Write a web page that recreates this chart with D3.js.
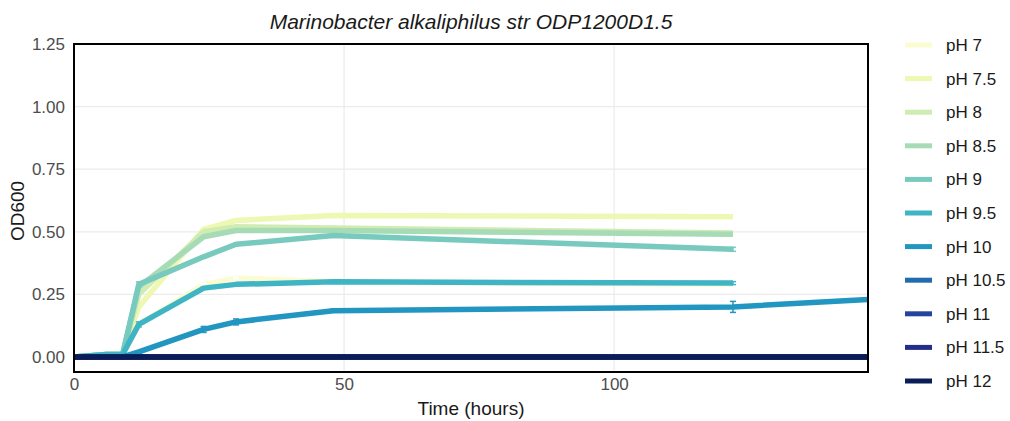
<!DOCTYPE html>
<html><head><meta charset="utf-8">
<script src="https://cdn.jsdelivr.net/npm/d3@7"></script>
<style>body{margin:0;background:#fff;} svg{display:block;font-family:"Liberation Sans",Arial,sans-serif;}</style>
</head><body><svg id="c" width="1010" height="421"></svg>
<script>
const seriesNames = ["pH 7","pH 7.5","pH 8","pH 8.5","pH 9","pH 9.5","pH 10","pH 10.5","pH 11","pH 11.5","pH 12"];
const seriesColors = ["#fbfcd2","#eef8b2","#d0ecb3","#a6dbb6","#77cabd","#3fb4c4","#2196c1","#226bae","#2444a0","#232f86","#0b1d56"];
const times = [0, 6, 9, 12, 24, 30, 48, 122];
const timesLong = [0, 6, 9, 12, 24, 30, 48, 122, 147];
const ph7   = [0, 0.01, 0.01, 0.13, 0.29, 0.315, 0.30, 0.29];
const ph75  = [0, 0.01, 0.01, 0.20, 0.51, 0.545, 0.565, 0.56];
const ph8   = [0, 0.01, 0.01, 0.25, 0.50, 0.52, 0.515, 0.495];
const ph85  = [0, 0.01, 0.01, 0.28, 0.48, 0.505, 0.505, 0.49];
const ph9   = [0, 0.01, 0.01, 0.29, 0.40, 0.45, 0.485, 0.43];
const ph95  = [0, 0.01, 0.01, 0.13, 0.275, 0.29, 0.30, 0.295];
const ph10  = [0, 0, 0, 0.02, 0.11, 0.14, 0.185, 0.20, 0.23];
const ph105 = [0, 0, 0, 0, 0, 0, 0, 0, 0];
const ph11  = [0, 0, 0, 0, 0, 0, 0, 0, 0];
const ph115 = [0, 0, 0, 0, 0, 0, 0, 0, 0];
const ph12  = [0, 0, 0, 0, 0, 0, 0, 0, 0];
const ph10Err = [0, 0, 0, 0.005, 0.012, 0.012, 0.006, 0.022, 0];
const ph9Err  = [0, 0, 0, 0.01, 0.004, 0.004, 0.004, 0.008];
const ph95Err = [0, 0, 0, 0.01, 0.004, 0.004, 0.004, 0.006];
const ph7Err  = [0, 0, 0, 0.005, 0.004, 0.004, 0.008, 0.004];
const yTicks = [0, 0.25, 0.5, 0.75, 1.0, 1.25];
const xTicks = [0, 50, 100];

const allValues = [ph7, ph75, ph8, ph85, ph9, ph95, ph10, ph105, ph11, ph115, ph12];
const allErrs = [ph7Err, null, null, null, ph9Err, ph95Err, ph10Err, null, null, null, null];

const svg = d3.select("#c");
const L = 74, R = 868, T = 44, B = 372;
const x = d3.scaleLinear().domain([0, 147]).range([L, R]);
const y = d3.scaleLinear().domain([-0.06, 1.25]).range([B, T]);

// gridlines
svg.append("g").selectAll("line").data(yTicks).join("line")
  .attr("x1", L).attr("x2", R).attr("y1", d => y(d)).attr("y2", d => y(d))
  .attr("stroke", "#ebebeb").attr("stroke-width", 1.2);
svg.append("g").selectAll("line").data(xTicks).join("line")
  .attr("y1", T).attr("y2", B).attr("x1", d => x(d)).attr("x2", d => x(d))
  .attr("stroke", "#ebebeb").attr("stroke-width", 1.2);

// axes
const yAxis = d3.axisLeft(y).tickValues(yTicks).tickFormat(d3.format(".2f")).tickSize(0).tickPadding(9);
const gy = svg.append("g").attr("transform", `translate(${L},0)`).call(yAxis);
gy.select(".domain").remove();
gy.selectAll("text").attr("font-size", 17).attr("fill", "#4d4d4d").attr("font-family", "Liberation Sans, Arial, sans-serif");
const xAxis = d3.axisBottom(x).tickValues(xTicks).tickFormat(d3.format("d")).tickSize(0).tickPadding(6);
const gx = svg.append("g").attr("transform", `translate(0,${B})`).call(xAxis);
gx.select(".domain").remove();
gx.selectAll("text").attr("font-size", 17).attr("fill", "#4d4d4d").attr("font-family", "Liberation Sans, Arial, sans-serif");

const clip = svg.append("clipPath").attr("id", "clip").append("rect")
  .attr("x", L).attr("y", T).attr("width", R - L).attr("height", B - T);

const plot = svg.append("g").attr("clip-path", "url(#clip)");
const line = d3.line().x(d => x(d[0])).y(d => y(d[1]));

allValues.forEach((vals, i) => {
  const ts = vals.length === timesLong.length ? timesLong : times;
  const pts = vals.map((v, j) => [ts[j], v]);
  plot.append("path").datum(pts).attr("d", line)
    .attr("fill", "none").attr("stroke", seriesColors[i]).attr("stroke-width", 5.5)
    .attr("stroke-linejoin", "round");
  const err = allErrs[i];
  if (err) {
    const g = plot.append("g").attr("stroke", i === 0 ? "#ffffff" : seriesColors[i]).attr("stroke-width", 1.5);
    pts.forEach((p, j) => {
      if (!err[j]) return;
      const cx = x(p[0]);
      g.append("line").attr("x1", cx).attr("x2", cx).attr("y1", y(p[1] - err[j])).attr("y2", y(p[1] + err[j]));
      g.append("line").attr("x1", cx - 3).attr("x2", cx + 3).attr("y1", y(p[1] - err[j])).attr("y2", y(p[1] - err[j]));
      g.append("line").attr("x1", cx - 3).attr("x2", cx + 3).attr("y1", y(p[1] + err[j])).attr("y2", y(p[1] + err[j]));
    });
  }
});

// border
svg.append("rect").attr("x", L).attr("y", T).attr("width", R - L).attr("height", B - T)
  .attr("fill", "none").attr("stroke", "#000").attr("stroke-width", 2);

// title
svg.append("text").attr("x", 471).attr("y", 29).attr("text-anchor", "middle")
  .attr("font-size", 21).attr("font-style", "italic").attr("fill", "#1a1a1a")
  .text("Marinobacter alkaliphilus str ODP1200D1.5");
svg.append("text").attr("x", 471).attr("y", 415).attr("text-anchor", "middle")
  .attr("font-size", 19).attr("fill", "#1a1a1a").text("Time (hours)");
svg.append("text").attr("transform", "translate(24,211) rotate(-90)").attr("text-anchor", "middle")
  .attr("font-size", 19).attr("fill", "#1a1a1a").text("OD600");

// legend
const leg = svg.append("g");
seriesNames.forEach((n, i) => {
  const yy = 45 + i * 33.6;
  leg.append("line").attr("x1", 905).attr("x2", 932).attr("y1", yy).attr("y2", yy)
    .attr("stroke", seriesColors[i]).attr("stroke-width", 5);
  leg.append("text").attr("x", 946).attr("y", yy + 6).attr("font-size", 17).attr("fill", "#1a1a1a").text(n);
});
</script></body></html>
